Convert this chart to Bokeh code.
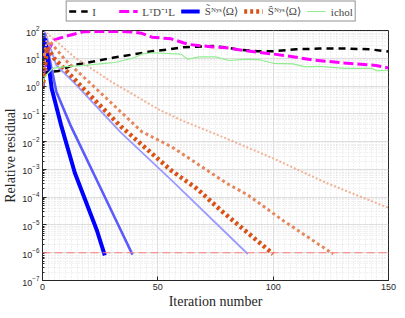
from bokeh.plotting import figure
from bokeh.layouts import column
from bokeh.models import Legend, LegendItem, Span, FixedTicker, Range1d
from bokeh.embed import file_html
from bokeh.resources import INLINE

# ---------------- data ----------------
it_I = [0, 2, 7, 13, 22, 31, 40, 47.5, 55, 61, 67, 74, 79, 84, 93, 100, 110, 120, 131, 142, 150]
res_I = [2.5, 3.2, 3.5, 5.6, 7.6, 10.7, 14, 18, 21, 25, 26, 27.5, 25, 21, 18, 18, 21, 22.4, 22.4, 21, 17.4]

it_ldl = [0, 1, 2.4, 5, 10, 18, 25, 32, 39, 43, 47.5, 55.8, 61.3, 64.2, 73.8, 79.6, 89.2, 100.4, 105.8, 117, 130.8, 144.6, 150]
res_ldl = [1.6, 4, 18.6, 46, 62, 91, 93, 93, 89, 79, 57.5, 50, 35.5, 31, 25.7, 24, 18.2, 14.1, 12.3, 8.7, 6.8, 5.5, 4.5]

it_ichol = [0, 1, 4.4, 10, 18, 25, 32, 40, 43, 47.5, 60, 63, 68, 75, 81, 89, 94.6, 100, 108.6, 114, 120, 131, 143, 145, 150]
res_ichol = [1.26, 2.2, 4.3, 5.0, 5.5, 6.3, 7.2, 10.7, 14.1, 15.8, 14.1, 9.3, 11.2, 11.2, 8.3, 9.3, 8.7, 6.6, 6.3, 4.9, 5.1, 4.3, 4.3, 3.5, 3.7]

# S~Nys family (blue): strong, medium, weak
it_sb1 = [0, 1, 2, 4, 8, 14, 23.6, 27]
res_sb1 = [1, 56, 15, 0.8, 0.041, 7.6e-4, 6.3e-6, 8e-7]
it_sb2 = [0, 1, 3, 6, 12, 22, 34, 39]
res_sb2 = [1, 79, 10, 0.63, 0.041, 7.6e-4, 6.3e-6, 8.5e-7]
it_sb3 = [0, 1, 6, 14, 34, 56, 89]
res_sb3 = [1, 89, 5.6, 1.26, 0.021, 4e-4, 9e-7]

# S^Nys family (orange): strong, medium, weak
it_so1 = [0, 2, 5, 10, 20, 34, 56, 67, 78, 100]
res_so1 = [0.8, 25, 10, 3.8, 0.52, 0.035, 8.9e-4, 2e-4, 3e-5, 9e-7]
it_so2 = [0, 1, 3, 10, 25, 43, 56, 80, 89, 104.5, 126]
res_so2 = [1, 20, 42, 8.5, 0.59, 0.023, 6.5e-3, 3.1e-4, 1.2e-4, 1.4e-5, 9e-7]
it_so3 = [0, 2, 14, 30, 51, 60, 80, 100, 122.5, 150]
res_so3 = [1, 80, 10.7, 1.4, 0.135, 0.06, 0.0126, 2.5e-3, 3.4e-4, 4.1e-5]

tol = 1e-6
x_ticks = [0, 50, 100, 150]
y_exps = list(range(-7, 3))

labels = ["I", "L\u1d40D\u207b\u00b9L", "S\u0303\u1d3a\u02b8\u02e2\u27e8\u03a9\u27e9",
          "S\u0302\u1d3a\u02b8\u02e2\u27e8\u03a9\u27e9", "ichol"]

# styles shared by the plot lines and the legend samples
st_I = dict(line_color="black", line_width=2.5, line_dash="7 5")
st_ldl = dict(line_color="#ff00ff", line_width=3, line_dash="10 4")
st_sb1 = dict(line_color="#0000ff", line_width=4)
st_sb2 = dict(line_color="#5a5aff", line_width=2.6)
st_sb3 = dict(line_color="#9a9aff", line_width=1.8)
st_so1 = dict(line_color="#d95319", line_width=4.5, line_dash="3 3")
st_so2 = dict(line_color="#e5875d", line_width=3, line_dash="3 3")
st_so3 = dict(line_color="#f2b296", line_width=2, line_dash="2 2")
st_ichol = dict(line_color="#90ee90", line_width=1.2)

FW, FH = 346, 250

# ---------------- main figure ----------------
p = figure(frame_width=FW, frame_height=FH, y_axis_type="log",
           x_range=Range1d(0, 150), y_range=Range1d(1e-7, 1e2),
           output_backend="svg", toolbar_location=None,
           min_border_left=30, min_border_right=9, min_border_top=8, min_border_bottom=0)

p.outline_line_color = "#262626"
p.outline_line_width = 1
p.background_fill_color = "white"
p.border_fill_color = "white"

p.xaxis.ticker = FixedTicker(ticks=x_ticks, minor_ticks=[i * 2.5 for i in range(61)])
p.yaxis.ticker = FixedTicker(ticks=[10.0 ** e for e in y_exps],
                             minor_ticks=[k * 10.0 ** e for e in range(-7, 2) for k in range(2, 10)])

for ax in (p.xaxis[0], p.yaxis[0]):
    ax.axis_line_color = "#262626"
    ax.major_tick_line_color = "#262626"
    ax.minor_tick_line_color = "#262626"
    ax.major_tick_in = 4
    ax.major_tick_out = 0
    ax.minor_tick_in = 2
    ax.minor_tick_out = 0
    ax.major_label_text_font = "Liberation Sans"
    ax.major_label_text_font_size = "9px"
    ax.major_label_text_color = "#262626"
    ax.major_label_standoff = 3
    ax.axis_label_text_font = "Liberation Serif"
    ax.axis_label_text_font_size = "14px"
    ax.axis_label_text_font_style = "normal"
    ax.axis_label_text_color = "#262626"
    ax.axis_label_standoff = 1
p.xaxis[0].minor_tick_line_color = None
p.xaxis.axis_label = "Iteration number"
p.yaxis.axis_label = "Relative residual"

for g in (p.xgrid[0], p.ygrid[0]):
    g.grid_line_color = "#dedede"
    g.grid_line_width = 1
    g.minor_grid_line_color = "#cfcfcf"
    g.minor_grid_line_dash = "1 2"
    g.minor_grid_line_width = 0.6

p.line(it_I, res_I, **st_I)
p.line(it_ldl, res_ldl, **st_ldl)
p.line(it_sb3, res_sb3, **st_sb3)
p.line(it_sb2, res_sb2, **st_sb2)
p.line(it_sb1, res_sb1, **st_sb1)
p.line(it_so3, res_so3, **st_so3)
p.line(it_so2, res_so2, **st_so2)
p.line(it_so1, res_so1, **st_so1)
p.line(it_ichol, res_ichol, **st_ichol)

p.add_layout(Span(location=tol, dimension="width", line_color="#ff8080",
                  line_width=1, line_dash="8 4"))

# ---------------- legend strip (above the axes) ----------------
# the legend samples reuse the series, drawn outside this strip's visible ranges
lf = figure(width=388, height=22, x_range=Range1d(1000, 1001), y_range=Range1d(1000, 1001),
            x_axis_location=None, y_axis_location=None,
            output_backend="svg", toolbar_location=None,
            min_border_left=28, min_border_right=0, min_border_top=0, min_border_bottom=0)
lf.grid.visible = False
lf.outline_line_color = None
lf.background_fill_color = "white"
lf.border_fill_color = "white"

samples = [lf.line(it_I, res_I, **st_I),
           lf.line(it_ldl, res_ldl, **st_ldl),
           lf.line(it_sb1, res_sb1, **st_sb1),
           lf.line(it_so1, res_so1, **st_so1),
           lf.line(it_ichol, res_ichol, **st_ichol)]
legend = Legend(items=[LegendItem(label=lab, renderers=[r]) for lab, r in zip(labels, samples)],
                orientation="horizontal", location="center",
                border_line_color="#262626", border_line_width=1,
                padding=2, spacing=6, label_standoff=5,
                glyph_width=19, glyph_height=11, label_height=11,
                label_text_font="Liberation Serif", label_text_font_size="11px",
                margin=0)
lf.add_layout(legend, "center")

layout = column(lf, p, spacing=0)
open("out.html", "w").write(file_html(layout, INLINE))
